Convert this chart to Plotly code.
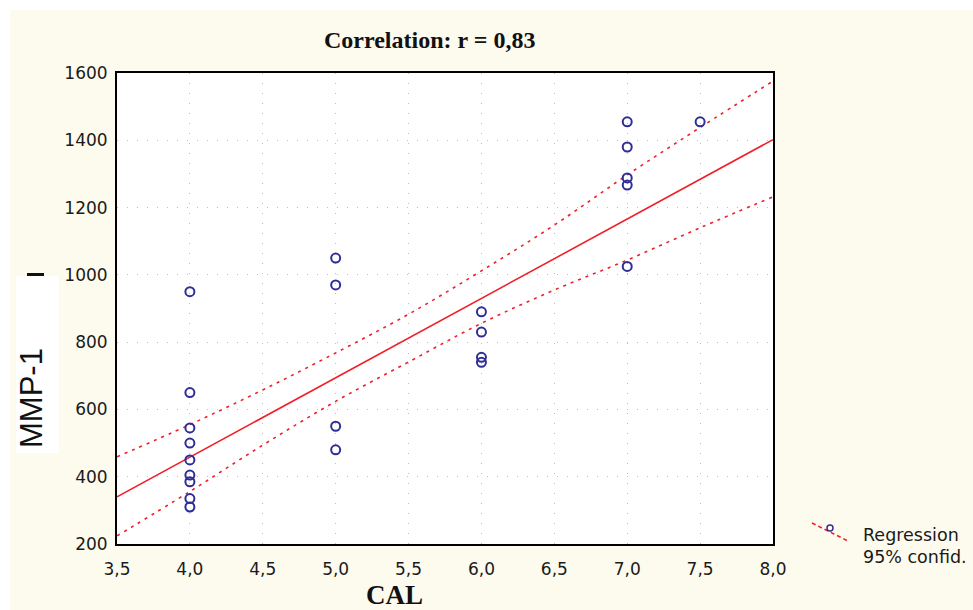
import plotly.graph_objects as go

# ---- data ----
cal = [4, 4, 4, 4, 4, 4, 4, 4, 4,
       5, 5, 5, 5,
       6, 6, 6, 6,
       7, 7, 7, 7, 7,
       7.5]
mmp1 = [950, 650, 545, 500, 450, 405, 385, 335, 310,
        1050, 970, 550, 480,
        890, 830, 755, 740,
        1455, 1380, 1288, 1267, 1025,
        1455]

fit_x = [3.5, 8.0]
fit_y = [340, 1402]

band_x = [3.5, 4.0, 4.5, 5.0, 5.5, 6.0, 6.5, 7.0, 7.5, 8.0]
band_upper = [459, 555, 658, 768, 883, 1012, 1148, 1297, 1438, 1576]
band_lower = [224, 356, 494, 624, 741, 856, 955, 1044, 1140, 1232]

x_ticks = [3.5, 4.0, 4.5, 5.0, 5.5, 6.0, 6.5, 7.0, 7.5, 8.0]
x_tick_labels = ["3,5", "4,0", "4,5", "5,0", "5,5", "6,0", "6,5", "7,0", "7,5", "8,0"]
y_ticks = [200, 400, 600, 800, 1000, 1200, 1400, 1600]
y_tick_labels = ["200", "400", "600", "800", "1000", "1200", "1400", "1600"]

title_text = "Correlation: r = 0,83"
x_title = "CAL"
y_title = "MMP-1"
legend_labels = ["Regression", "95% confid."]

# ---- layout geometry ----
W, H = 973, 610
L, R, T, B = 117, 773, 73, 544


def px(x):
    return (x - L) / (R - L)


def py(y):
    return (B - y) / (B - T)


RED = "#F0202A"
BLUE = "#2E2E96"
CREAM = "#FDFAEE"

fig = go.Figure()

fig.add_trace(go.Scatter(x=band_x, y=band_upper, mode="lines", line_shape="spline",
                         line=dict(color=RED, width=1.6, dash="3px,5px"),
                         hoverinfo="skip", showlegend=False))
fig.add_trace(go.Scatter(x=band_x, y=band_lower, mode="lines", line_shape="spline",
                         line=dict(color=RED, width=1.6, dash="3px,5px"),
                         hoverinfo="skip", showlegend=False))
fig.add_trace(go.Scatter(x=fit_x, y=fit_y, mode="lines",
                         line=dict(color=RED, width=1.6),
                         hoverinfo="skip", showlegend=False))
fig.add_trace(go.Scatter(x=cal, y=mmp1, mode="markers",
                         marker=dict(symbol="circle-open", size=9, color=BLUE,
                                     line=dict(width=2, color=BLUE)),
                         showlegend=False))

axis_common = dict(showline=True, mirror=True, linecolor="black", linewidth=2,
                   showgrid=True, gridcolor="#BEBEBE", gridwidth=1, griddash="1px,9px",
                   zeroline=False, ticks="outside", tickcolor="rgba(0,0,0,0)",
                   tickfont=dict(family="DejaVu Sans", size=17, color="#1A1A1A"))

fig.update_xaxes(range=[3.5, 8.0], tickvals=x_ticks, ticktext=x_tick_labels,
                 ticklen=9, **axis_common)
fig.update_yaxes(range=[200, 1600], tickvals=y_ticks, ticktext=y_tick_labels,
                 ticklen=4, **axis_common)

shapes = [
    # white strips at the top and left edge of the picture
    dict(type="rect", xref="paper", yref="paper", x0=px(0), x1=px(W), y0=py(10), y1=py(0),
         fillcolor="white", line=dict(width=0), layer="below"),
    dict(type="rect", xref="paper", yref="paper", x0=px(0), x1=px(10), y0=py(H), y1=py(0),
         fillcolor="white", line=dict(width=0), layer="below"),
    # white box behind y-axis title
    dict(type="rect", xref="paper", yref="paper", x0=px(16), x1=px(59), y0=py(453), y1=py(276),
         fillcolor="white", line=dict(width=0), layer="below"),
    # small dark bar peeking above the box
    dict(type="rect", xref="paper", yref="paper", x0=px(27), x1=px(44), y0=py(276), y1=py(273),
         fillcolor="#111111", line=dict(width=0)),
    # legend symbol: dashed red line with small marker
    dict(type="line", xref="paper", yref="paper", x0=px(812), y0=py(523), x1=px(848), y1=py(541),
         line=dict(color=RED, width=1.6, dash="4px,3px")),
    dict(type="circle", xref="paper", yref="paper", x0=px(827), x1=px(833), y0=py(531), y1=py(525),
         line=dict(color=BLUE, width=1.5), fillcolor="white"),
]

annotations = [
    dict(text="<b>" + title_text + "</b>", xref="paper", yref="paper", x=px(429), y=py(40),
         xanchor="center", yanchor="middle", showarrow=False,
         font=dict(family="Liberation Serif", size=24, color="#111111")),
    dict(text="<b>" + x_title + "</b>", xref="paper", yref="paper", x=px(394), y=py(595),
         xanchor="center", yanchor="middle", showarrow=False,
         font=dict(family="Liberation Serif", size=27, color="#111111")),
    dict(text=y_title, xref="paper", yref="paper", x=px(31), y=py(398), textangle=-90,
         xanchor="center", yanchor="middle", showarrow=False,
         font=dict(family="Liberation Sans", size=31, color="#111111")),
    dict(text=legend_labels[0], xref="paper", yref="paper", x=px(861), y=py(535),
         xanchor="left", yanchor="middle", showarrow=False,
         font=dict(family="DejaVu Sans", size=17.5, color="#1A1A1A")),
    dict(text=legend_labels[1], xref="paper", yref="paper", x=px(861), y=py(557),
         xanchor="left", yanchor="middle", showarrow=False,
         font=dict(family="DejaVu Sans", size=17.5, color="#1A1A1A")),
]

fig.update_layout(width=W, height=H,
                  margin=dict(l=L, r=W - R, t=T, b=H - B, pad=0),
                  paper_bgcolor=CREAM, plot_bgcolor="white",
                  showlegend=False, shapes=shapes, annotations=annotations)

fig.write_html("out.html")
